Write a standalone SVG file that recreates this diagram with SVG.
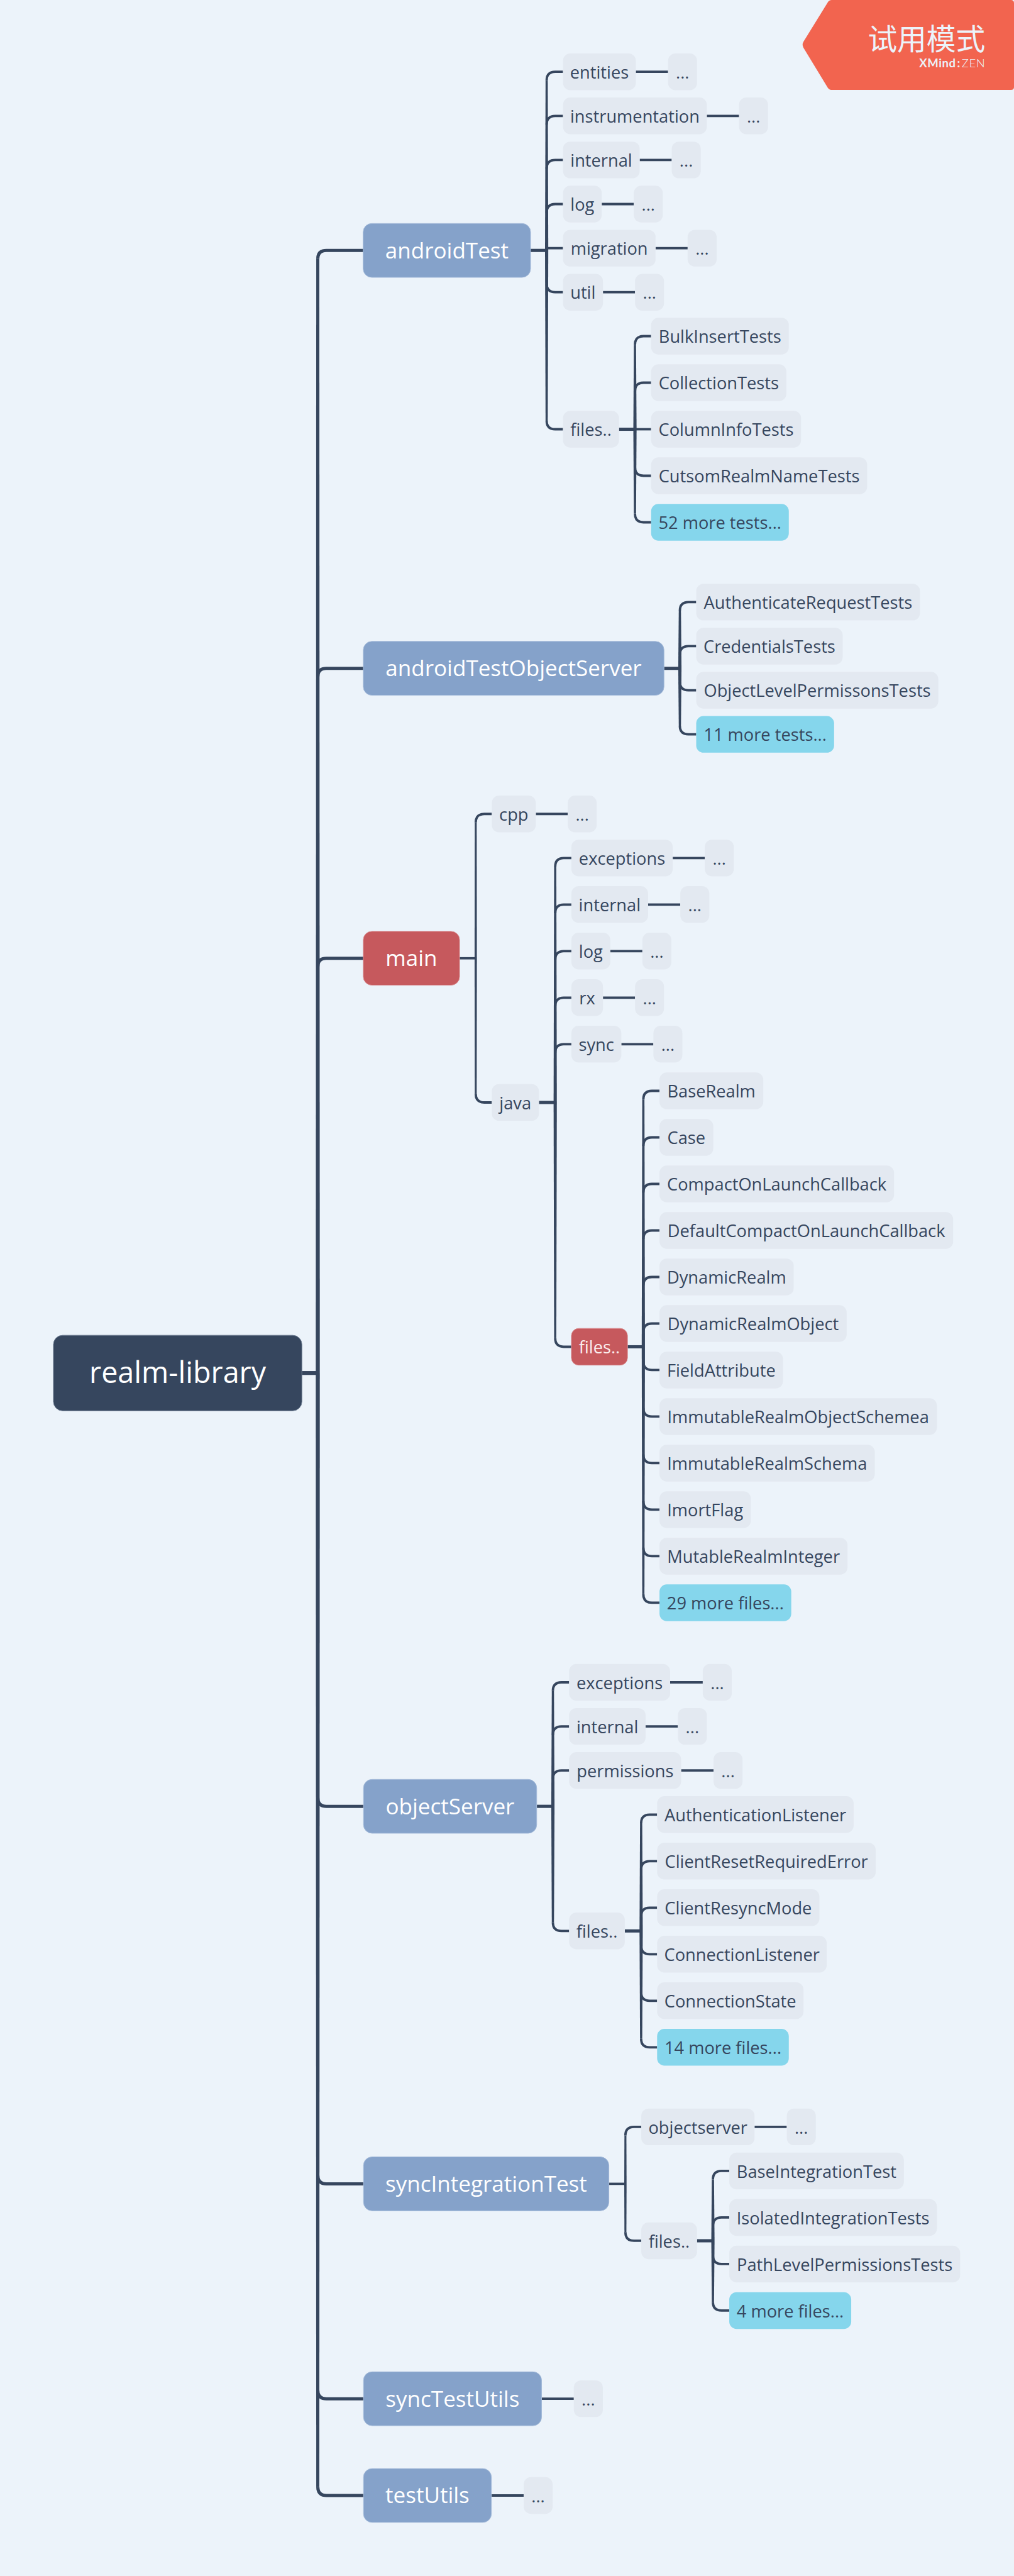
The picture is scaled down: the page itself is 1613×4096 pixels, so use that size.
<svg xmlns="http://www.w3.org/2000/svg" width="1613" height="4096" viewBox="0 0 1613 4096">
<style>
text{font-family:"Open Sans","Noto Sans",sans-serif;text-anchor:middle}
.n{fill:#e3e9f1}.bl{fill:#85a2ca;stroke:#a3bad9;stroke-width:1}.rd{fill:#c6595d;stroke:#d98c8f;stroke-width:1}.cy{fill:#85d6ec}
.t{font-size:28px;fill:#36465e}.tw{font-size:28px;fill:#fbeeee}.l{font-size:36px;fill:#fff}
.k{fill:none;stroke:#36465e;stroke-width:3.9}.k5{fill:none;stroke:#36465e;stroke-width:5.2}.k3{fill:none;stroke:#36465e;stroke-width:3.8}.tr{fill:#36465e}
</style>
<rect width="1613" height="4096" fill="#ecf3fa"/>
<g transform="scale(0.97345 0.97362)">
<g id="connectors">
<path class="k5" style="stroke-width:6.4" d="M493 2242.3H519.3"/>
<path class="tr" d="M516.8 423L516 2242.3L516.8 4061.5H521.8L522.6 2242.3L521.8 423Z"/>
<path class="k5" d="M594 409H533.3Q519.3 409 519.3 423"/>
<path class="k5" d="M594 1091.5H533.3Q519.3 1091.5 519.3 1105.5"/>
<path class="k5" d="M594 1565H533.3Q519.3 1565 519.3 1579"/>
<path class="k5" d="M594 2950H533.3Q519.3 2950 519.3 2936"/>
<path class="k5" d="M594 3566.5H533.3Q519.3 3566.5 519.3 3552.5"/>
<path class="k5" d="M594 3917.5H533.3Q519.3 3917.5 519.3 3903.5"/>
<path class="k5" d="M594 4075.5H533.3Q519.3 4075.5 519.3 4061.5"/>

<path class="k5" d="M867 409H893.3"/>
<path class="tr" d="M891.5 131.3L890.65 409L891.5 687H895.1L895.95 409L895.1 131.3Z"/>
<path class="k" d="M920 117.3H907.3Q893.3 117.3 893.3 131.3"/>
<path class="k" d="M920 189.3H907.3Q893.3 189.3 893.3 203.3"/>
<path class="k" d="M920 261.3H907.3Q893.3 261.3 893.3 275.3"/>
<path class="k" d="M920 333.3H907.3Q893.3 333.3 893.3 347.3"/>
<path class="k" d="M920 405.3H893.3"/>
<path class="k" d="M920 477.3H907.3Q893.3 477.3 893.3 463.3"/>
<path class="k" d="M920 701H907.3Q893.3 701 893.3 687"/>
<path class="k" d="M1039 117.3H1091.7"/>
<path class="k" d="M1155 189.3H1207.7"/>
<path class="k" d="M1045.3 261.3H1097.7"/>
<path class="k" d="M983.3 333.3H1035.7"/>
<path class="k" d="M1071.3 405.3H1123.7"/>
<path class="k" d="M985.3 477.3H1037.7"/>

<path class="k5" d="M1011.5 701H1037.6"/>
<path class="tr" d="M1035.8 563L1034.95 701L1035.8 839H1039.4L1040.25 701L1039.4 563Z"/>
<path class="k" d="M1064 549H1051.6Q1037.6 549 1037.6 563"/>
<path class="k" d="M1064 625H1051.6Q1037.6 625 1037.6 639"/>
<path class="k" d="M1064 701H1037.6"/>
<path class="k" d="M1064 777H1051.6Q1037.6 777 1037.6 763"/>
<path class="k" d="M1064 853H1051.6Q1037.6 853 1037.6 839"/>

<path class="k5" d="M1085 1091.5H1111"/>
<path class="tr" d="M1109.2 997.3L1108.35 1091.5L1109.2 1185.3H1112.8L1113.65 1091.5L1112.8 997.3Z"/>
<path class="k" d="M1137.7 983.3H1125Q1111 983.3 1111 997.3"/>
<path class="k" d="M1137.7 1055.3H1125Q1111 1055.3 1111 1069.3"/>
<path class="k" d="M1137.7 1127.3H1125Q1111 1127.3 1111 1113.3"/>
<path class="k" d="M1137.7 1199.3H1125Q1111 1199.3 1111 1185.3"/>

<path class="k3" d="M751 1565H777.4"/>
<path class="tr" d="M775.8 1343.3L775.5 1565L775.8 1786.5H779L779.3 1565L779 1343.3Z"/>
<path class="k" d="M803.6 1329.3H791.4Q777.4 1329.3 777.4 1343.3"/>
<path class="k" d="M803.6 1800.5H791.4Q777.4 1800.5 777.4 1786.5"/>
<path class="k" d="M875.6 1329.3H927.7"/>

<path class="k5" d="M880.7 1800.5H907.3"/>
<path class="tr" d="M905.5 1415.3L904.65 1800.5L905.5 2185.5H909.1L909.95 1800.5L909.1 1415.3Z"/>
<path class="k" d="M933.7 1401.3H921.3Q907.3 1401.3 907.3 1415.3"/>
<path class="k" d="M933.7 1477.3H921.3Q907.3 1477.3 907.3 1491.3"/>
<path class="k" d="M933.7 1553.3H921.3Q907.3 1553.3 907.3 1567.3"/>
<path class="k" d="M933.7 1629.3H921.3Q907.3 1629.3 907.3 1643.3"/>
<path class="k" d="M933.7 1705.3H921.3Q907.3 1705.3 907.3 1719.3"/>
<path class="k" d="M933.7 2199.5H921.3Q907.3 2199.5 907.3 2185.5"/>
<path class="k" d="M1099.3 1401.3H1151.7"/>
<path class="k" d="M1059 1477.3H1111.7"/>
<path class="k" d="M997.3 1553.3H1049.7"/>
<path class="k" d="M985.3 1629.3H1037.7"/>
<path class="k" d="M1015.3 1705.3H1067.7"/>

<path class="k5" d="M1025.4 2199.5H1051.3"/>
<path class="tr" d="M1049.5 1795.5L1048.65 2199.5L1049.5 2603.5H1053.1L1053.95 2199.5L1053.1 1795.5Z"/>
<path class="k" d="M1077.7 1781.5H1065.3Q1051.3 1781.5 1051.3 1795.5"/>
<path class="k" d="M1077.7 1857.5H1065.3Q1051.3 1857.5 1051.3 1871.5"/>
<path class="k" d="M1077.7 1933.5H1065.3Q1051.3 1933.5 1051.3 1947.5"/>
<path class="k" d="M1077.7 2009.5H1065.3Q1051.3 2009.5 1051.3 2023.5"/>
<path class="k" d="M1077.7 2085.5H1065.3Q1051.3 2085.5 1051.3 2099.5"/>
<path class="k" d="M1077.7 2161.5H1065.3Q1051.3 2161.5 1051.3 2175.5"/>
<path class="k" d="M1077.7 2237.5H1065.3Q1051.3 2237.5 1051.3 2223.5"/>
<path class="k" d="M1077.7 2313.5H1065.3Q1051.3 2313.5 1051.3 2299.5"/>
<path class="k" d="M1077.7 2389.5H1065.3Q1051.3 2389.5 1051.3 2375.5"/>
<path class="k" d="M1077.7 2465.5H1065.3Q1051.3 2465.5 1051.3 2451.5"/>
<path class="k" d="M1077.7 2541.5H1065.3Q1051.3 2541.5 1051.3 2527.5"/>
<path class="k" d="M1077.7 2617.5H1065.3Q1051.3 2617.5 1051.3 2603.5"/>

<path class="k5" d="M877 2950H903.5"/>
<path class="tr" d="M901.7 2761.5L900.85 2950L901.7 3139.5H905.3L906.15 2950L905.3 2761.5Z"/>
<path class="k" d="M930 2747.5H917.5Q903.5 2747.5 903.5 2761.5"/>
<path class="k" d="M930 2819.5H917.5Q903.5 2819.5 903.5 2833.5"/>
<path class="k" d="M930 2891.5H917.5Q903.5 2891.5 903.5 2905.5"/>
<path class="k" d="M930 3153.5H917.5Q903.5 3153.5 903.5 3139.5"/>
<path class="k" d="M1095 2747.5H1148.4"/>
<path class="k" d="M1055 2819.5H1107.7"/>
<path class="k" d="M1113 2891.5H1166"/>

<path class="k5" d="M1021 3153.5H1047.7"/>
<path class="tr" d="M1045.9 2977.5L1045.05 3153.5L1045.9 3329.5H1049.5L1050.35 3153.5L1049.5 2977.5Z"/>
<path class="k" d="M1073.8 2963.5H1061.7Q1047.7 2963.5 1047.7 2977.5"/>
<path class="k" d="M1073.8 3039.5H1061.7Q1047.7 3039.5 1047.7 3053.5"/>
<path class="k" d="M1073.8 3115.5H1061.7Q1047.7 3115.5 1047.7 3129.5"/>
<path class="k" d="M1073.8 3191.5H1061.7Q1047.7 3191.5 1047.7 3177.5"/>
<path class="k" d="M1073.8 3267.5H1061.7Q1047.7 3267.5 1047.7 3253.5"/>
<path class="k" d="M1073.8 3343.5H1061.7Q1047.7 3343.5 1047.7 3329.5"/>

<path class="k3" d="M995 3566.5H1022"/>
<path class="tr" d="M1020.4 3487.5L1020.1 3566.5L1020.4 3645.5H1023.6L1023.9 3566.5L1023.6 3487.5Z"/>
<path class="k" d="M1048 3473.5H1036Q1022 3473.5 1022 3487.5"/>
<path class="k" d="M1048 3659.5H1036Q1022 3659.5 1022 3645.5"/>
<path class="k" d="M1233 3473.5H1285.7"/>

<path class="k5" d="M1139 3659.5H1165"/>
<path class="tr" d="M1163.2 3559.5L1162.35 3659.5L1163.2 3759.5H1166.8L1167.65 3659.5L1166.8 3559.5Z"/>
<path class="k" d="M1191.7 3545.5H1179Q1165 3545.5 1165 3559.5"/>
<path class="k" d="M1191.7 3621.5H1179Q1165 3621.5 1165 3635.5"/>
<path class="k" d="M1191.7 3697.5H1179Q1165 3697.5 1165 3683.5"/>
<path class="k" d="M1191.7 3773.5H1179Q1165 3773.5 1165 3759.5"/>

<path class="k" d="M885 3917.5H937.7"/>
<path class="k" d="M803 4075.5H855.7"/>
</g>

<g id="root"><rect x="87.3" y="2180.7" width="406" height="123.3" rx="15" fill="#36465e" stroke="#6b7a90" stroke-width="1"/><text x="290.3" y="2259" style="font-size:48px;fill:#fff">realm-library</text></g>

<g id="androidTest"><rect class="bl" x="593.5" y="365" width="273.5" height="88" rx="14"/><text class="l" x="730.3" y="421.7">androidTest</text></g>
<g id="entities"><rect class="n" x="920" y="87.3" width="119" height="60" rx="12"/><text class="t" x="979.5" y="128.3">entities</text></g>
<g id="entities-more"><rect class="n" x="1091.7" y="87.3" width="47.4" height="60" rx="12"/><text class="t" x="1115.4" y="128.3">...</text></g>
<g id="instrumentation"><rect class="n" x="920" y="159.3" width="235" height="60" rx="12"/><text class="t" x="1037.5" y="200.3">instrumentation</text></g>
<g id="instrumentation-more"><rect class="n" x="1207.7" y="159.3" width="47.4" height="60" rx="12"/><text class="t" x="1231.4" y="200.3">...</text></g>
<g id="internal"><rect class="n" x="920" y="231.3" width="125.3" height="60" rx="12"/><text class="t" x="982.6" y="272.3">internal</text></g>
<g id="internal-more"><rect class="n" x="1097.7" y="231.3" width="47.4" height="60" rx="12"/><text class="t" x="1121.4" y="272.3">...</text></g>
<g id="log"><rect class="n" x="920" y="303.3" width="63.3" height="60" rx="12"/><text class="t" x="951.6" y="344.3">log</text></g>
<g id="log-more"><rect class="n" x="1035.7" y="303.3" width="47.4" height="60" rx="12"/><text class="t" x="1059.4" y="344.3">...</text></g>
<g id="migration"><rect class="n" x="920" y="375.3" width="151.3" height="60" rx="12"/><text class="t" x="995.6" y="416.3">migration</text></g>
<g id="migration-more"><rect class="n" x="1123.7" y="375.3" width="47.4" height="60" rx="12"/><text class="t" x="1147.4" y="416.3">...</text></g>
<g id="util"><rect class="n" x="920" y="447.3" width="65.3" height="60" rx="12"/><text class="t" x="952.6" y="488.3">util</text></g>
<g id="util-more"><rect class="n" x="1037.7" y="447.3" width="47.4" height="60" rx="12"/><text class="t" x="1061.4" y="488.3">...</text></g>
<g id="files-a"><rect class="n" x="920" y="671" width="91.5" height="60" rx="12"/><text class="t" x="965.7" y="712">files..</text></g>
<g id="BulkInsertTests"><rect class="n" x="1064" y="519" width="225" height="60" rx="12"/><text class="t" x="1176.5" y="560">BulkInsertTests</text></g>
<g id="CollectionTests"><rect class="n" x="1064" y="595" width="221" height="60" rx="12"/><text class="t" x="1174.5" y="636">CollectionTests</text></g>
<g id="ColumnInfoTests"><rect class="n" x="1064" y="671" width="245" height="60" rx="12"/><text class="t" x="1186.5" y="712">ColumnInfoTests</text></g>
<g id="CutsomRealmNameTests"><rect class="n" x="1064" y="747" width="353" height="60" rx="12"/><text class="t" x="1240.5" y="788">CutsomRealmNameTests</text></g>
<g id="more-tests-52"><rect class="cy" x="1064" y="823" width="225" height="60" rx="12"/><text class="t" x="1176.5" y="864">52 more tests...</text></g>

<g id="androidTestObjectServer"><rect class="bl" x="593.7" y="1047.5" width="491.3" height="88" rx="14"/><text class="l" x="839.3" y="1104.2">androidTestObjectServer</text></g>
<g id="AuthenticateRequestTests"><rect class="n" x="1137.7" y="953.3" width="365.6" height="60" rx="12"/><text class="t" x="1320.5" y="994.3">AuthenticateRequestTests</text></g>
<g id="CredentialsTests"><rect class="n" x="1137.7" y="1025.3" width="239.3" height="60" rx="12"/><text class="t" x="1257.3" y="1066.3">CredentialsTests</text></g>
<g id="ObjectLevelPermissonsTests"><rect class="n" x="1137.7" y="1097.3" width="395.6" height="60" rx="12"/><text class="t" x="1335.5" y="1138.3">ObjectLevelPermissonsTests</text></g>
<g id="more-tests-11"><rect class="cy" x="1137.7" y="1169.3" width="225.3" height="60" rx="12"/><text class="t" x="1250.3" y="1210.3">11 more tests...</text></g>

<g id="main"><rect class="rd" x="593.7" y="1521" width="157.3" height="88" rx="14"/><text class="l" x="672.3" y="1577.7">main</text></g>
<g id="cpp"><rect class="n" x="803.6" y="1299.3" width="72" height="60" rx="12"/><text class="t" x="839.6" y="1340.3">cpp</text></g>
<g id="cpp-more"><rect class="n" x="927.7" y="1299.3" width="47.4" height="60" rx="12"/><text class="t" x="951.4" y="1340.3">...</text></g>
<g id="java"><rect class="n" x="803.6" y="1770.5" width="77.1" height="60" rx="12"/><text class="t" x="842.1" y="1811.5">java</text></g>
<g id="exceptions-m"><rect class="n" x="933.7" y="1371.3" width="165.6" height="60" rx="12"/><text class="t" x="1016.5" y="1412.3">exceptions</text></g>
<g id="exceptions-m-more"><rect class="n" x="1151.7" y="1371.3" width="47.4" height="60" rx="12"/><text class="t" x="1175.4" y="1412.3">...</text></g>
<g id="internal-m"><rect class="n" x="933.7" y="1447.3" width="125.3" height="60" rx="12"/><text class="t" x="996.3" y="1488.3">internal</text></g>
<g id="internal-m-more"><rect class="n" x="1111.7" y="1447.3" width="47.4" height="60" rx="12"/><text class="t" x="1135.4" y="1488.3">...</text></g>
<g id="log-m"><rect class="n" x="933.7" y="1523.3" width="63.6" height="60" rx="12"/><text class="t" x="965.5" y="1564.3">log</text></g>
<g id="log-m-more"><rect class="n" x="1049.7" y="1523.3" width="47.4" height="60" rx="12"/><text class="t" x="1073.4" y="1564.3">...</text></g>
<g id="rx"><rect class="n" x="933.7" y="1599.3" width="51.6" height="60" rx="12"/><text class="t" x="959.5" y="1640.3">rx</text></g>
<g id="rx-more"><rect class="n" x="1037.7" y="1599.3" width="47.4" height="60" rx="12"/><text class="t" x="1061.4" y="1640.3">...</text></g>
<g id="sync"><rect class="n" x="933.7" y="1675.3" width="81.6" height="60" rx="12"/><text class="t" x="974.5" y="1716.3">sync</text></g>
<g id="sync-more"><rect class="n" x="1067.7" y="1675.3" width="47.4" height="60" rx="12"/><text class="t" x="1091.4" y="1716.3">...</text></g>
<g id="files-m"><rect class="rd" x="933.7" y="2169.5" width="91.7" height="60" rx="12"/><text class="tw" x="979.5" y="2210.5">files..</text></g>
<g id="BaseRealm"><rect class="n" x="1077.7" y="1751.5" width="169.6" height="60" rx="12"/><text class="t" x="1162.5" y="1792.5">BaseRealm</text></g>
<g id="Case"><rect class="n" x="1077.7" y="1827.5" width="87.9" height="60" rx="12"/><text class="t" x="1121.6" y="1868.5">Case</text></g>
<g id="CompactOnLaunchCallback"><rect class="n" x="1077.7" y="1903.5" width="383.3" height="60" rx="12"/><text class="t" x="1269.3" y="1944.5">CompactOnLaunchCallback</text></g>
<g id="DefaultCompactOnLaunchCallback"><rect class="n" x="1077.7" y="1979.5" width="479.9" height="60" rx="12"/><text class="t" x="1317.6" y="2020.5">DefaultCompactOnLaunchCallback</text></g>
<g id="DynamicRealm"><rect class="n" x="1077.7" y="2055.5" width="219.3" height="60" rx="12"/><text class="t" x="1187.3" y="2096.5">DynamicRealm</text></g>
<g id="DynamicRealmObject"><rect class="n" x="1077.7" y="2131.5" width="305.8" height="60" rx="12"/><text class="t" x="1230.6" y="2172.5">DynamicRealmObject</text></g>
<g id="FieldAttribute"><rect class="n" x="1077.7" y="2207.5" width="201.8" height="60" rx="12"/><text class="t" x="1178.6" y="2248.5">FieldAttribute</text></g>
<g id="ImmutableRealmObjectSchemea"><rect class="n" x="1077.7" y="2283.5" width="453.3" height="60" rx="12"/><text class="t" x="1304.3" y="2324.5">ImmutableRealmObjectSchemea</text></g>
<g id="ImmutableRealmSchema"><rect class="n" x="1077.7" y="2359.5" width="351.8" height="60" rx="12"/><text class="t" x="1253.6" y="2400.5">ImmutableRealmSchema</text></g>
<g id="ImortFlag"><rect class="n" x="1077.7" y="2435.5" width="149.3" height="60" rx="12"/><text class="t" x="1152.3" y="2476.5">ImortFlag</text></g>
<g id="MutableRealmInteger"><rect class="n" x="1077.7" y="2511.5" width="307.3" height="60" rx="12"/><text class="t" x="1231.3" y="2552.5">MutableRealmInteger</text></g>
<g id="more-files-29"><rect class="cy" x="1077.7" y="2587.5" width="215.3" height="60" rx="12"/><text class="t" x="1185.3" y="2628.5">29 more files...</text></g>

<g id="objectServer"><rect class="bl" x="594" y="2906" width="283" height="88" rx="14"/><text class="l" x="735.5" y="2962.7">objectServer</text></g>
<g id="exceptions-o"><rect class="n" x="930" y="2717.5" width="165" height="60" rx="12"/><text class="t" x="1012.5" y="2758.5">exceptions</text></g>
<g id="exceptions-o-more"><rect class="n" x="1148.4" y="2717.5" width="47.4" height="60" rx="12"/><text class="t" x="1172.1" y="2758.5">...</text></g>
<g id="internal-o"><rect class="n" x="930" y="2789.5" width="125" height="60" rx="12"/><text class="t" x="992.5" y="2830.5">internal</text></g>
<g id="internal-o-more"><rect class="n" x="1107.7" y="2789.5" width="47.4" height="60" rx="12"/><text class="t" x="1131.4" y="2830.5">...</text></g>
<g id="permissions"><rect class="n" x="930" y="2861.5" width="183" height="60" rx="12"/><text class="t" x="1021.5" y="2902.5">permissions</text></g>
<g id="permissions-more"><rect class="n" x="1166" y="2861.5" width="47.4" height="60" rx="12"/><text class="t" x="1189.7" y="2902.5">...</text></g>
<g id="files-o"><rect class="n" x="930" y="3123.5" width="91" height="60" rx="12"/><text class="t" x="975.5" y="3164.5">files..</text></g>
<g id="AuthenticationListener"><rect class="n" x="1073.8" y="2933.5" width="321.2" height="60" rx="12"/><text class="t" x="1234.4" y="2974.5">AuthenticationListener</text></g>
<g id="ClientResetRequiredError"><rect class="n" x="1073.8" y="3009.5" width="357.2" height="60" rx="12"/><text class="t" x="1252.4" y="3050.5">ClientResetRequiredError</text></g>
<g id="ClientResyncMode"><rect class="n" x="1073.8" y="3085.5" width="265.2" height="60" rx="12"/><text class="t" x="1206.4" y="3126.5">ClientResyncMode</text></g>
<g id="ConnectionListener"><rect class="n" x="1073.8" y="3161.5" width="277.2" height="60" rx="12"/><text class="t" x="1212.4" y="3202.5">ConnectionListener</text></g>
<g id="ConnectionState"><rect class="n" x="1073.8" y="3237.5" width="239.2" height="60" rx="12"/><text class="t" x="1193.4" y="3278.5">ConnectionState</text></g>
<g id="more-files-14"><rect class="cy" x="1073.8" y="3313.5" width="215.2" height="60" rx="12"/><text class="t" x="1181.4" y="3354.5">14 more files...</text></g>

<g id="syncIntegrationTest"><rect class="bl" x="594" y="3522.5" width="401" height="88" rx="14"/><text class="l" x="794.5" y="3579.2">syncIntegrationTest</text></g>
<g id="objectserver"><rect class="n" x="1048" y="3443.5" width="185" height="60" rx="12"/><text class="t" x="1140.5" y="3484.5">objectserver</text></g>
<g id="objectserver-more"><rect class="n" x="1285.7" y="3443.5" width="47.4" height="60" rx="12"/><text class="t" x="1309.4" y="3484.5">...</text></g>
<g id="files-s"><rect class="n" x="1048" y="3629.5" width="91" height="60" rx="12"/><text class="t" x="1093.5" y="3670.5">files..</text></g>
<g id="BaseIntegrationTest"><rect class="n" x="1191.7" y="3515.5" width="285.3" height="60" rx="12"/><text class="t" x="1334.3" y="3556.5">BaseIntegrationTest</text></g>
<g id="IsolatedIntegrationTests"><rect class="n" x="1191.7" y="3591.5" width="339.3" height="60" rx="12"/><text class="t" x="1361.3" y="3632.5">IsolatedIntegrationTests</text></g>
<g id="PathLevelPermissionsTests"><rect class="n" x="1191.7" y="3667.5" width="377.3" height="60" rx="12"/><text class="t" x="1380.3" y="3708.5">PathLevelPermissionsTests</text></g>
<g id="more-files-4"><rect class="cy" x="1191.7" y="3743.5" width="199.3" height="60" rx="12"/><text class="t" x="1291.3" y="3784.5">4 more files...</text></g>

<g id="syncTestUtils"><rect class="bl" x="594" y="3873.5" width="291" height="88" rx="14"/><text class="l" x="739.5" y="3930.2">syncTestUtils</text></g>
<g id="syncTestUtils-more"><rect class="n" x="937.7" y="3887.5" width="47.4" height="60" rx="12"/><text class="t" x="961.4" y="3928.5">...</text></g>
<g id="testUtils"><rect class="bl" x="594" y="4031.5" width="209" height="88" rx="14"/><text class="l" x="698.5" y="4088.2">testUtils</text></g>
<g id="testUtils-more"><rect class="n" x="855.7" y="4045.5" width="47.4" height="60" rx="12"/><text class="t" x="879.4" y="4086.5">...</text></g>

<g id="trial-badge">
<path d="M1359 0H1652Q1657 0 1657 5V142Q1657 147 1652 147H1360Q1355 147 1352.5 143L1313 78Q1310 73 1313 68L1352.5 4Q1355 0 1359 0Z" fill="#f2644f"/>
<text x="1610" y="81" style="font-family:'Noto Sans CJK SC','Open Sans',sans-serif;font-size:48px;fill:#ecf3fa;text-anchor:end">试用模式</text>
<text x="1610" y="109.5" style="font-family:Lato,'Open Sans',sans-serif;font-size:19px;letter-spacing:.6px;fill:#ecf3fa;text-anchor:end"><tspan font-weight="700">XMind</tspan><tspan font-weight="700" dx="2">:</tspan><tspan font-weight="300" dx="2">ZEN</tspan></text>
</g>
</g>
</svg>
